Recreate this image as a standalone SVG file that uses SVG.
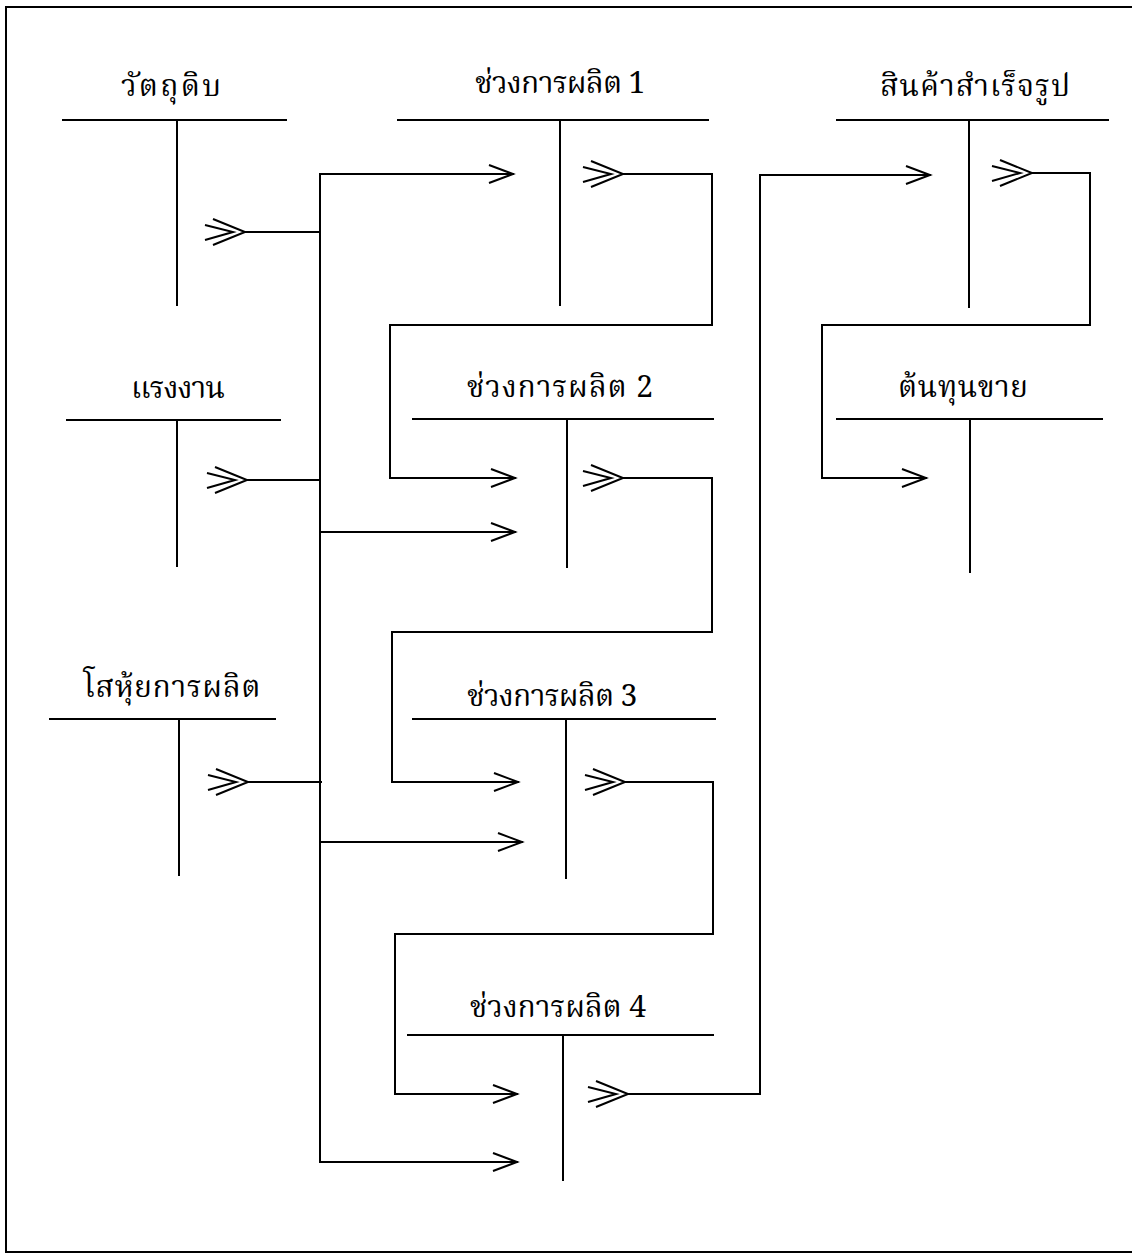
<svg xmlns="http://www.w3.org/2000/svg" width="1132" height="1254" viewBox="0 0 1132 1254">
<style>
.ln{fill:none;stroke:#000;stroke-width:2;stroke-linecap:square}
.t{font-family:"Noto Serif Thai","Noto Sans Thai","Loma","Garuda","Noto Sans","DejaVu Sans",sans-serif;font-size:30px;fill:#000;text-anchor:middle}
</style>
<defs>
<marker id="a1" markerUnits="userSpaceOnUse" markerWidth="30" markerHeight="30" refX="26" refY="13" orient="auto" viewBox="0 0 30 30">
<path d="M2,4 L26,13 L2,22" fill="none" stroke="#000" stroke-width="2"/>
</marker>
<g id="dbl">
<path d="M-32,-13 L0,0 L-32,13 M-40,-7 L-12,0 L-40,8" fill="none" stroke="#000" stroke-width="2"/>
</g>
</defs>
<rect width="1132" height="1254" fill="#fff"/>
<path class="ln" d="M1132,7 H6 V1252 H1132"/>

<g id="raw-materials">
<text class="t" x="171" y="96" textLength="100" lengthAdjust="spacing">วัตถุดิบ</text>
<path class="ln" d="M63,120 H286 M177,120 V305"/>
<use href="#dbl" x="245" y="232"/>
</g>
<g id="labor">
<text class="t" x="178" y="398" textLength="94" lengthAdjust="spacing">แรงงาน</text>
<path class="ln" d="M67,420 H280 M177,420 V566"/>
<use href="#dbl" x="247" y="480"/>
</g>
<g id="overhead">
<text class="t" x="172" y="697" textLength="177" lengthAdjust="spacing">โสหุ้ยการผลิต</text>
<path class="ln" d="M50,719 H275 M179,719 V875"/>
<use href="#dbl" x="248" y="782"/>
</g>
<g id="stage1">
<text class="t" x="560" y="93" textLength="170" lengthAdjust="spacing">ช่วงการผลิต 1</text>
<path class="ln" d="M398,120 H708 M560,120 V305"/>
<use href="#dbl" x="623" y="174"/>
</g>
<g id="stage2">
<text class="t" x="560" y="397" textLength="186" lengthAdjust="spacing">ช่วงการผลิต 2</text>
<path class="ln" d="M413,419 H713 M567,419 V567"/>
<use href="#dbl" x="623" y="478"/>
</g>
<g id="stage3">
<text class="t" x="552" y="706" textLength="170" lengthAdjust="spacing">ช่วงการผลิต 3</text>
<path class="ln" d="M413,719 H715 M566,719 V878"/>
<use href="#dbl" x="625" y="782"/>
</g>
<g id="stage4">
<text class="t" x="558" y="1017" textLength="176" lengthAdjust="spacing">ช่วงการผลิต 4</text>
<path class="ln" d="M408,1035 H713 M563,1035 V1180"/>
<use href="#dbl" x="628" y="1094"/>
</g>
<g id="finished-goods">
<text class="t" x="975" y="96" textLength="190" lengthAdjust="spacing">สินค้าสำเร็จรูป</text>
<path class="ln" d="M837,120 H1108 M969,120 V307"/>
<use href="#dbl" x="1032" y="173"/>
</g>
<g id="cogs">
<text class="t" x="963" y="397" textLength="130" lengthAdjust="spacing">ต้นทุนขาย</text>
<path class="ln" d="M837,419 H1102 M970,419 V572"/>
</g>

<g id="connectors">
<path class="ln" d="M245,232 H320 M247,480 H320 M248,782 H321"/>
<path class="ln" d="M320,174 V1162"/>
<path class="ln" d="M320,174 H513" marker-end="url(#a1)"/>
<path class="ln" d="M320,532 H515" marker-end="url(#a1)"/>
<path class="ln" d="M321,842 H522" marker-end="url(#a1)"/>
<path class="ln" d="M321,1162 H517" marker-end="url(#a1)"/>
<path class="ln" d="M623,174 H712 V325 H390 V478 H515" marker-end="url(#a1)"/>
<path class="ln" d="M623,478 H712 V632 H392 V782 H518" marker-end="url(#a1)"/>
<path class="ln" d="M625,782 H713 V934 H395 V1094 H517" marker-end="url(#a1)"/>
<path class="ln" d="M628,1094 H760 V175 H930" marker-end="url(#a1)"/>
<path class="ln" d="M1032,173 H1090 V325 H822 V478 H926" marker-end="url(#a1)"/>
</g>
</svg>
